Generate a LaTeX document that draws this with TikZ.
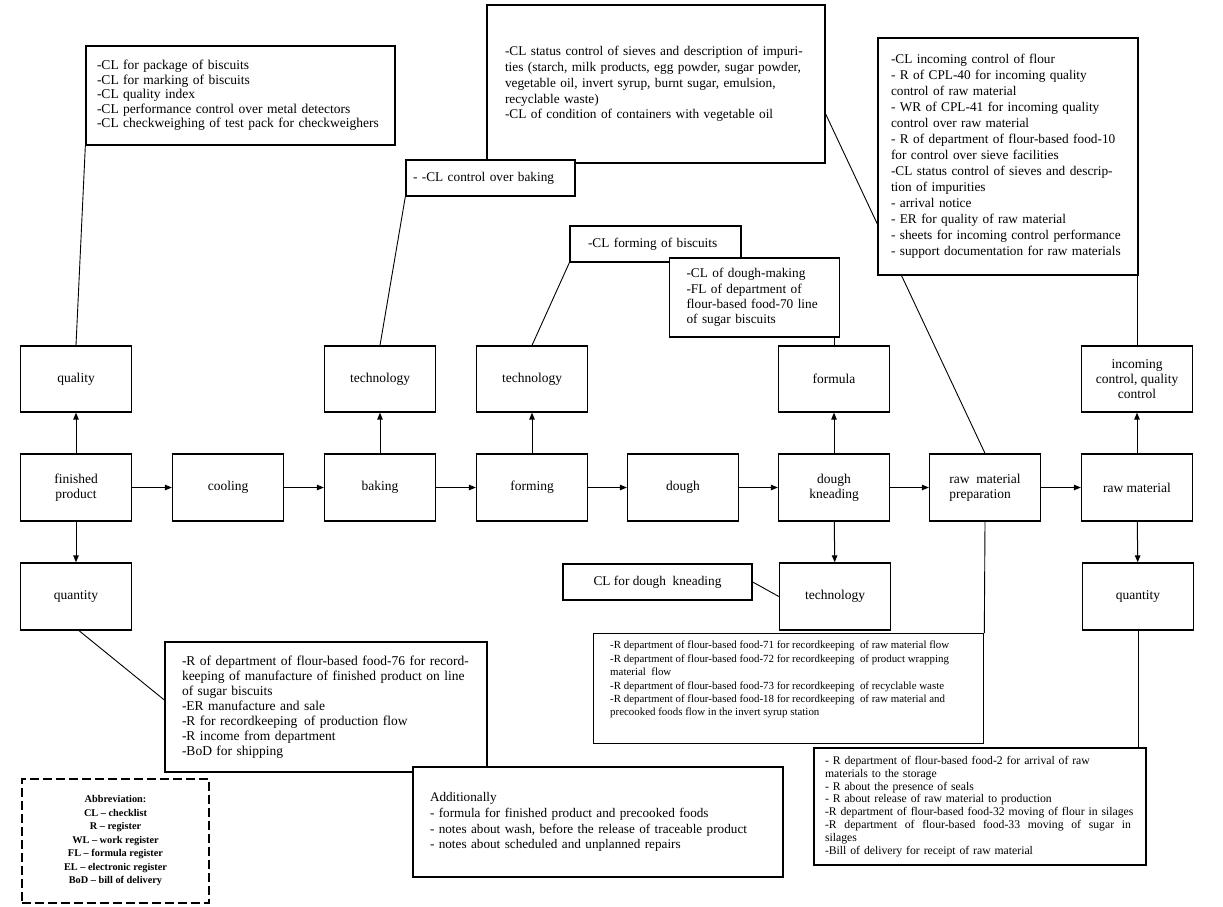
\documentclass[tikz,border=0pt]{standalone}
\usepackage{fontspec}
\setmainfont{Liberation Serif}
\usetikzlibrary{arrows.meta,backgrounds}

\begin{document}
\begin{tikzpicture}[x=1pt,y=-1pt,
    stage/.style={draw,line width=1.3pt,fill=white,minimum width=111pt,minimum height=67pt,
        align=center,inner sep=2pt,font=\fontsize{13.5}{15}\selectfont},
    notebox/.style={draw,line width=1.3pt,fill=white,align=left,inner ysep=0pt},
    flow/.style={-{Triangle[length=7pt,width=5.5pt]},line width=1pt},
    link/.style={line width=0.9pt}]

    \useasboundingbox (0,0) rectangle (1223,907);

    % production line
    \node[stage] (fin)   at (76,487.5)  {finished\\product};
    \node[stage] (cool)  at (228,487.5) {cooling};
    \node[stage] (bake)  at (380,487.5) {baking};
    \node[stage] (form)  at (532,487.5) {forming};
    \node[stage] (dough) at (683,487.5) {dough};
    \node[stage] (knead) at (834,487.5) {dough\\kneading};
    \node[stage,align=left] (prep) at (985,487.5) {raw\enspace material\\preparation};
    \node[stage] (raw)   at (1137,487.5) {raw material};

    % control points above and below
    \node[stage,minimum height=66pt] (quality)  at (76,379)   {quality};
    \node[stage,minimum height=66pt] (techbake) at (380,379)  {technology};
    \node[stage,minimum height=66pt] (techform) at (532,379)  {technology};
    \node[stage,minimum height=66pt] (formula)  at (834,379)  {formula};
    \node[stage,minimum height=66pt] (incoming) at (1137,379) {incoming\\control, quality\\control};
    \node[stage] (quantity)  at (76,596.5)   {quantity};
    \node[stage] (techknead) at (835,596.5)  {technology};
    \node[stage] (quantity2) at (1138,596.5) {quantity};

    % documents
    \node[notebox,inner xsep=11pt,text width=287pt,minimum height=99pt,
        font=\fontsize{13.5}{14.6}\selectfont] (qualnote) at (240.5,95.5)
        {-CL for package of biscuits\\
         -CL for marking of biscuits\\
         -CL quality index\\
         -CL performance control over metal detectors\\
         -CL checkweighing of test pack for checkweighers};
    \node[notebox,inner xsep=18pt,text width=302pt,minimum height=158pt,
        font=\fontsize{13.3}{15.8}\selectfont] (sievenote) at (656,84)
        {-CL status control of sieves and description of impuri-\\
         ties (starch, milk products, egg powder, sugar powder,\\
         vegetable oil, invert syrup, burnt sugar, emulsion,\\
         recyclable waste)\\
         -CL of condition of containers with vegetable oil};
    \node[notebox,inner xsep=7pt,text width=155pt,minimum height=36pt,
        font=\fontsize{13.3}{15}\selectfont] (bakenote) at (490.5,178)
        {- -CL control over baking};
    \node[notebox,inner xsep=18pt,text width=135pt,minimum height=36pt,
        font=\fontsize{13.3}{15}\selectfont] (formnote) at (655.5,244)
        {-CL forming of biscuits};
    \node[notebox,inner xsep=17pt,text width=136pt,minimum height=79pt,
        font=\fontsize{13.3}{15.3}\selectfont] (doughnote) at (754.5,297.5)
        {-CL of dough-making\\
         -FL of department of\\
         flour-based food-70 line\\
         of sugar biscuits};
    \node[notebox,inner xsep=13pt,text width=234pt,minimum height=237pt,
        font=\fontsize{13.3}{16}\selectfont] (rawnote) at (1008,156.5)
        {-CL incoming control of flour\\
         - R of CPL-40 for incoming quality\\
         control of raw material\\
         - WR of CPL-41 for incoming quality\\
         control over raw material\\
         - R of department of flour-based food-10\\
         for control over sieve facilities\\
         -CL status control of sieves and descrip-\\
         tion of impurities\\
         - arrival notice\\
         - ER for quality of raw material\\
         - sheets for incoming control performance\\
         - support documentation for raw materials};
    \node[notebox,align=center,minimum width=189pt,minimum height=36pt,
        font=\fontsize{13.3}{15}\selectfont] (dknote) at (657.5,582)
        {CL for dough\enspace kneading};
    \node[notebox,inner xsep=17pt,text width=288pt,minimum height=130pt,
        font=\fontsize{13.5}{15}\selectfont] (n76) at (326,707)
        {-R of department of flour-based food-76 for record-\\
         keeping of manufacture of finished product on line\\
         of sugar biscuits\\
         -ER manufacture and sale\\
         -R for recordkeeping\enspace of production flow\\
         -R income from department\\
         -BoD for shipping};
    \node[notebox,inner xsep=17pt,text width=336pt,minimum height=110pt,
        font=\fontsize{13.2}{15.7}\selectfont] (addnote) at (598,822)
        {Additionally\\
         - formula for finished product and precooked foods\\
         - notes about wash, before the release of traceable product\\
         - notes about scheduled and unplanned repairs};
    \node[notebox,minimum width=390pt,minimum height=110pt,anchor=north west] (n71) at (593,633) {};
    \node[align=left,anchor=north west,inner sep=0pt,
        font=\fontsize{10.9}{13.4}\selectfont] (n71text) at ([xshift=17pt,yshift=-8pt]n71.north west)
        {-R department of flour-based food-71 for recordkeeping\enspace of raw material flow\\
         -R department of flour-based food-72 for recordkeeping\enspace of product wrapping\\
         material\enspace flow\\
         -R department of flour-based food-73 for recordkeeping\enspace of recyclable waste\\
         -R department of flour-based food-18 for recordkeeping\enspace of raw material and\\
         precooked foods flow in the invert syrup station};
    \node[notebox,inner xsep=11pt,text width=310pt,minimum height=117pt,
        font=\fontsize{11.7}{12.8}\selectfont] (brnote) at (980,806.5)
        {- R department of flour-based food-2 for arrival of raw\\
         materials to the storage\\
         - R about the presence of seals\\
         - R about release of raw material to production\\
         -R department of flour-based food-32 moving of flour in silages\\
         \makebox[306pt][s]{-R\hfill department\hfill of\hfill flour-based\hfill food-33\hfill moving\hfill of\hfill sugar\hfill in}\\
         silages\\
         -Bill of delivery for receipt of raw material};
    \node[draw,dash pattern=on 9pt off 4pt,line width=1.3pt,align=center,minimum width=187pt,minimum height=124pt,
        font=\bfseries\fontsize{10.3}{13.5}\selectfont] (abbr) at (115.5,841)
        {Abbreviation:\\
         CL -- checklist\\
         R -- register\\
         WL -- work register\\
         FL -- formula register\\
         EL -- electronic register\\
         BoD -- bill of delivery};

    % links to documents
    \begin{scope}[on background layer]
        \draw[link] (quality.north) -- (qualnote.south west);
        \draw[link] (techbake.north) -- (bakenote.south west);
        \draw[link] (techform.north) -- (formnote.south west);
        \draw[link] (formula.north) -- (formula.north |- doughnote.south);
        \draw[link] (incoming.north) -- (incoming.north |- rawnote.south);
        \draw[link] ([yshift=-30pt]sievenote.east) -- (prep.north);
        \draw[link] ([xshift=3pt]quantity.south) -- ([yshift=7pt]n76.west);
        \draw[link] (prep.south) -- (n71.north east);
        \draw[link] (dknote.east) -- (techknead.west);
        \draw[link] (quantity2.south) -- (quantity2.south |- brnote.north);
    \end{scope}

    % flow arrows
    \foreach \a/\b in {fin/cool,cool/bake,bake/form,form/dough,dough/knead,knead/prep,prep/raw}
        \draw[flow] (\a) -- (\b);
    \foreach \a/\b in {fin/quality,fin/quantity,bake/techbake,form/techform,knead/formula,
        knead/techknead,raw/incoming,raw/quantity2}
        \draw[flow] (\a) -- (\b);

\end{tikzpicture}
\end{document}
